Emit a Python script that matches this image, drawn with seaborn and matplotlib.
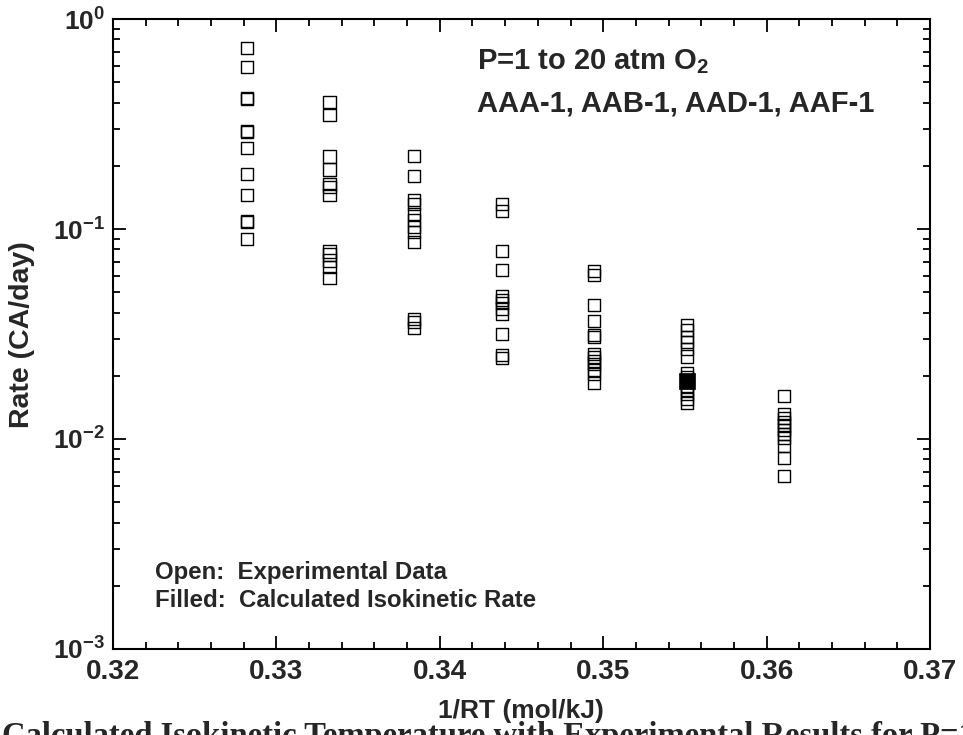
import numpy as np
import pandas as pd
import matplotlib
matplotlib.use("Agg")
import matplotlib.pyplot as plt
import matplotlib.ticker as mticker
import seaborn as sns

# Inverse temperature of each test condition (mol/kJ)
inv_rt_levels = [0.32821, 0.33325, 0.33843, 0.34383, 0.34941, 0.35512, 0.36106]

# Measured corrosion-allowance rates (CA/day) at each inverse temperature
rates_0 = [0.725, 0.589, 0.419, 0.415, 0.294, 0.290, 0.242, 0.182, 0.1447, 0.1096, 0.108, 0.0893]
rates_1 = [0.401, 0.348, 0.2215, 0.192, 0.163, 0.158, 0.145, 0.0781, 0.0756, 0.0708, 0.066, 0.0584]
rates_2 = [0.222, 0.178, 0.137, 0.132, 0.118, 0.110, 0.102, 0.0968, 0.0868, 0.0371, 0.0361, 0.0338]
rates_3 = [0.132, 0.122, 0.0783, 0.0636, 0.0477, 0.046, 0.0444, 0.0418, 0.0393, 0.0315, 0.025, 0.0243]
rates_4 = [0.0631, 0.0601, 0.0433, 0.0363, 0.0313, 0.0306, 0.0253, 0.0246, 0.0236, 0.0228,
           0.0213, 0.0204, 0.0185]
rates_5 = [0.0349, 0.033, 0.0306, 0.029, 0.0268, 0.0247, 0.0205, 0.0197, 0.0189, 0.0179,
           0.0171, 0.0164, 0.0155, 0.0149]
rates_6 = [0.0160, 0.0132, 0.0126, 0.01205, 0.0116, 0.01104, 0.01056, 0.01016, 0.00926,
           0.00812, 0.00664]

# Calculated isokinetic point
iso_x = [0.35512]
iso_rate = [0.0188]

x_ticks = [0.32, 0.33, 0.34, 0.35, 0.36, 0.37]
y_ticks = [1e-3, 1e-2, 1e-1, 1e0]
y_tick_labels = [r"$\mathbf{10^{-3}}$", r"$\mathbf{10^{-2}}$", r"$\mathbf{10^{-1}}$", r"$\mathbf{10^{0}}$"]

all_rates = [rates_0, rates_1, rates_2, rates_3, rates_4, rates_5, rates_6]
exp_df = pd.DataFrame({
    "inv_rt": np.concatenate([[x] * len(r) for x, r in zip(inv_rt_levels, all_rates)]),
    "rate": np.concatenate(all_rates),
})
iso_df = pd.DataFrame({"inv_rt": iso_x, "rate": iso_rate})

sns.set_theme(style="ticks")
plt.rcParams["font.family"] = ["Liberation Sans", "DejaVu Sans"]
plt.rcParams["font.weight"] = "bold"
plt.rcParams["mathtext.fontset"] = "custom"
plt.rcParams["mathtext.bf"] = "Liberation Sans:bold"
plt.rcParams["mathtext.rm"] = "Liberation Sans:bold"

W, H = 963, 735
fig = plt.figure(figsize=(W / 100, H / 100), dpi=100)
ax = fig.add_axes([113 / W, 1 - 649 / H, (930 - 113) / W, (649 - 19) / H])

sns.scatterplot(data=exp_df, x="inv_rt", y="rate", marker="s", s=76,
                facecolor="none", edgecolor="black", linewidth=1.0, ax=ax, zorder=3)
sns.scatterplot(data=iso_df, x="inv_rt", y="rate", marker="s", s=140,
                color="black", edgecolor="black", linewidth=0.5, ax=ax, zorder=4)

ax.set_yscale("log")
ax.set_xlim(0.32, 0.37)
ax.set_ylim(1e-3, 1e0)

ax.set_xticks(x_ticks)
ax.set_xticklabels([f"{v:.2f}" for v in x_ticks])
ax.xaxis.set_minor_locator(mticker.MultipleLocator(0.002))
ax.set_yticks(y_ticks)
ax.set_yticklabels(y_tick_labels)
ax.yaxis.set_minor_locator(mticker.LogLocator(base=10, subs=np.arange(2, 10)))
ax.yaxis.set_minor_formatter(mticker.NullFormatter())

for side in ["left", "right", "top", "bottom"]:
    ax.spines[side].set_visible(True)
    ax.spines[side].set_linewidth(1.5)
    ax.spines[side].set_color("black")

ax.tick_params(which="both", direction="in", top=True, right=True, color="black")
ax.tick_params(which="major", length=9.5, width=1.3, pad=6)
ax.tick_params(which="minor", length=5, width=1.3)
ax.tick_params(axis="x", which="major", labelsize=20, pad=7)
ax.tick_params(axis="y", which="major", labelsize=19, pad=6)
for lab in ax.get_xticklabels() + ax.get_yticklabels():
    lab.set_fontweight("bold")

ax.set_xlabel("")
ax.set_ylabel("")
fig.text(22 / W, 1 - 335 / H, "Rate (CA/day)", rotation=90, ha="center", va="center",
         fontsize=20.5, fontweight="bold")
fig.text(521 / W, 1 - 711 / H, "1/RT (mol/kJ)", ha="center", va="center",
         fontsize=19, fontweight="bold")

fig.text(477 / W, 1 - 62 / H, r"P=1 to 20 atm O$_{\mathbf{2}}$", ha="left", va="center",
         fontsize=21, fontweight="bold")
fig.text(477 / W, 1 - 104 / H, "AAA-1, AAB-1, AAD-1, AAF-1", ha="left", va="center",
         fontsize=21, fontweight="bold")

fig.text(155 / W, 1 - 579 / H, "Open:  Experimental Data", ha="left", va="baseline",
         fontsize=17.3, fontweight="bold")
fig.text(155 / W, 1 - 607 / H, "Filled:  Calculated Isokinetic Rate", ha="left", va="baseline",
         fontsize=17.3, fontweight="bold")

fig.text(2 / W, 1 - 745 / H,
         "Calculated Isokinetic Temperature with Experimental Results for P=1 to 20 atm",
         ha="left", va="baseline", fontsize=23.5, fontweight="bold",
         family=["Liberation Serif", "DejaVu Serif"])

fig.savefig("out.png", dpi=100, facecolor="white")
